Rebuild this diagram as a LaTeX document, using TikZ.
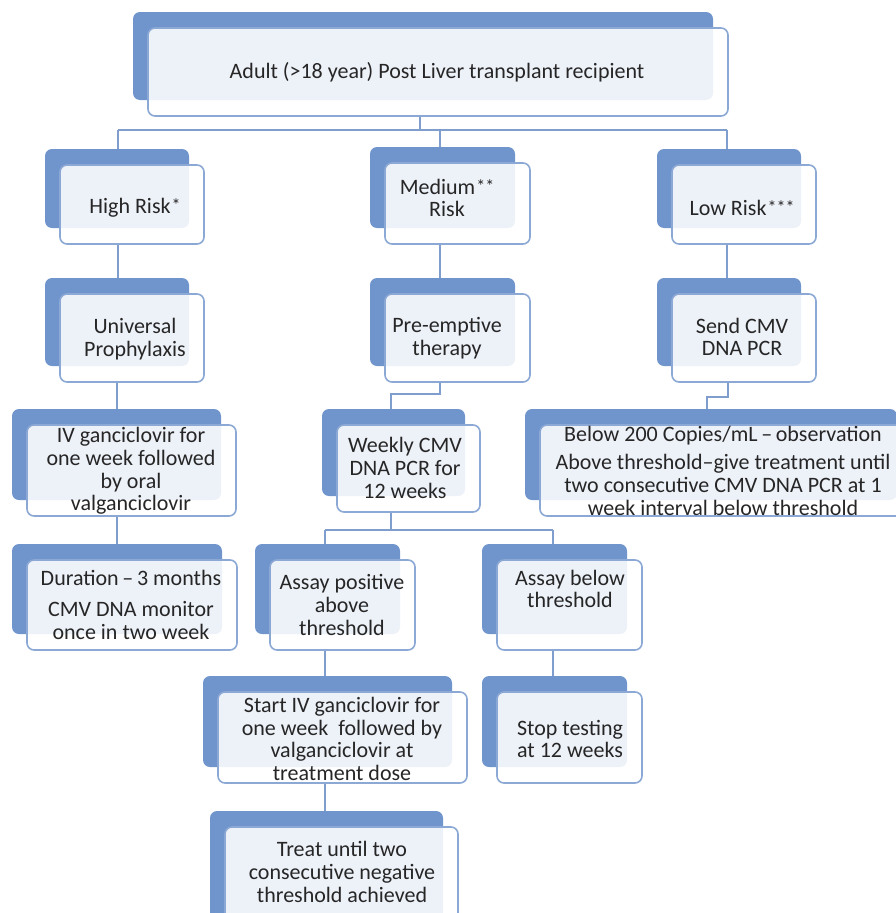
\documentclass[tikz,border=0pt]{standalone}
\usepackage{fontspec}
\setmainfont{Carlito}
\usetikzlibrary{fit}
\definecolor{backblue}{HTML}{7094CC}
\definecolor{edgeblue}{HTML}{8CA8D4}
\definecolor{linkblue}{HTML}{809ECD}
\definecolor{ink}{HTML}{262626}
\pgfdeclarelayer{bg}
\pgfsetlayers{bg,main}
\tikzset{
  backbox/.style={fill=backblue, rounded corners=7pt},
  frontbox/.style={fill=white, fill opacity=0.88, draw=edgeblue, line width=1.6pt, rounded corners=7pt, inner sep=0pt},
  txt/.style={text=ink, align=center, font=\fontsize{22}{22.8}\selectfont, inner sep=0pt},
  conn/.style={draw=linkblue, line width=2pt}
}
\newcommand\mkbox[5]{%
  \fill[backbox] (#2-15,#3-16) rectangle (#4-15,#5-16);
  \node[frontbox, fit={(#2,#3) (#4,#5)}] (#1) {};
}
\newcommand\stars[1]{\kern1pt\raisebox{2pt}{\fontsize{18}{18}\selectfont #1}}
\begin{document}
\begin{tikzpicture}[x=1pt,y=-1pt]
\useasboundingbox (0,0) rectangle (896,913);
\clip (0,0) rectangle (896,913);
% junction coordinates
\coordinate (j0) at (420,130);
\coordinate (jh) at (118,130);
\coordinate (jm) at (440,130);
\coordinate (jl) at (727,130);
\coordinate (ju) at (117,400);
\coordinate (jp1) at (440,394);
\coordinate (jp2) at (391,394);
\coordinate (js1) at (728,397);
\coordinate (js2) at (707,397);
\coordinate (jw) at (391,530);
\coordinate (ja) at (325,530);
\coordinate (jb) at (553,530);
% boxes
\mkbox{top}{148}{28}{728}{116}
\mkbox{high}{60}{165}{204}{244}
\mkbox{med}{385}{163}{530}{244}
\mkbox{low}{672}{165}{816}{244}
\mkbox{univ}{60}{294}{204}{382}
\mkbox{pre}{385}{294}{530}{382}
\mkbox{send}{672}{294}{816}{382}
\mkbox{ivg}{27}{425}{236}{516}
\mkbox{weekly}{337}{425}{480}{512}
\mkbox{below}{540}{425}{912}{516}
\mkbox{dur}{27}{560}{237}{650}
\mkbox{apos}{270}{560}{415}{650}
\mkbox{abel}{497}{560}{642}{650}
\mkbox{start}{218}{692}{467}{783}
\mkbox{stop}{497}{692}{642}{783}
\mkbox{treat}{225}{827}{458}{935}
% texts
\node[txt] (top-t) at (437,72) {Adult (>18 year) Post Liver transplant recipient};
\node[txt] (high-t) at (135,208) {High Risk\stars{*}};
\node[txt] (med-t) at (447,198) {Medium\stars{**}\\Risk};
\node[txt] (low-t) at (742,208) {Low Risk\stars{***}};
\node[txt] (univ-t) at (135,339) {Universal\\Prophylaxis};
\node[txt] (pre-t) at (447,338) {Pre-emptive\\therapy};
\node[txt] (send-t) at (742,337) {Send CMV\\DNA PCR};
\node[txt] (ivg-t) at (131,471) {IV ganciclovir for\\one week followed\\by oral\\valganciclovir};
\node[txt] (weekly-t) at (405,468) {Weekly CMV\\DNA PCR for\\12 weeks};
\node[txt] (below-t) at (723,471) {Below 200 Copies/mL\,–\,observation\\[5pt]Above threshold–give treatment until\\two consecutive CMV DNA PCR at 1\\week interval below threshold};
\node[txt] (dur-t) at (131,605) {Duration\,–\,3 months\\[8pt]CMV DNA monitor\\once in two week};
\node[txt] (apos-t) at (342,605) {Assay positive\\above\\threshold};
\node[txt] (abel-t) at (570,589) {Assay below\\threshold};
\node[txt] (start-t) at (342,739) {Start IV ganciclovir for\\one week\ \ followed by\\valganciclovir at\\treatment dose};
\node[txt] (stop-t) at (570,739) {Stop testing\\at 12 weeks};
\node[txt] (treat-t) at (342,872) {Treat until two\\consecutive negative\\threshold achieved};
% connectors (behind boxes)
\begin{pgfonlayer}{bg}
\draw[conn] (top.south -| j0) -- (j0);
\draw[conn] (jh) -- (jl);
\draw[conn] (jh) -- (jh |- high.north);
\draw[conn] (jm) -- (jm |- med.north);
\draw[conn] (jl) -- (jl |- low.north);
\draw[conn] (high.south -| jh) -- (univ.north -| jh);
\draw[conn] (med.south -| jm) -- (pre.north -| jm);
\draw[conn] (low.south -| jl) -- (send.north -| jl);
\draw[conn] (univ.south -| ju) -- (ivg.north -| ju);
\draw[conn] (ivg.south -| ju) -- (dur.north -| ju);
\draw[conn] (pre.south -| jp1) -- (jp1) -- (jp2) -- (weekly.north -| jp2);
\draw[conn] (send.south -| js1) -- (js1) -- (js2) -- (below.north -| js2);
\draw[conn] (weekly.south -| jw) -- (jw);
\draw[conn] (ja) -- (jb);
\draw[conn] (ja) -- (apos.north -| ja);
\draw[conn] (jb) -- (abel.north -| jb);
\draw[conn] (apos.south -| ja) -- (start.north -| ja);
\draw[conn] (abel.south -| jb) -- (stop.north -| jb);
\draw[conn] (start.south -| ja) -- (treat.north -| ja);
\end{pgfonlayer}
\end{tikzpicture}
\end{document}
